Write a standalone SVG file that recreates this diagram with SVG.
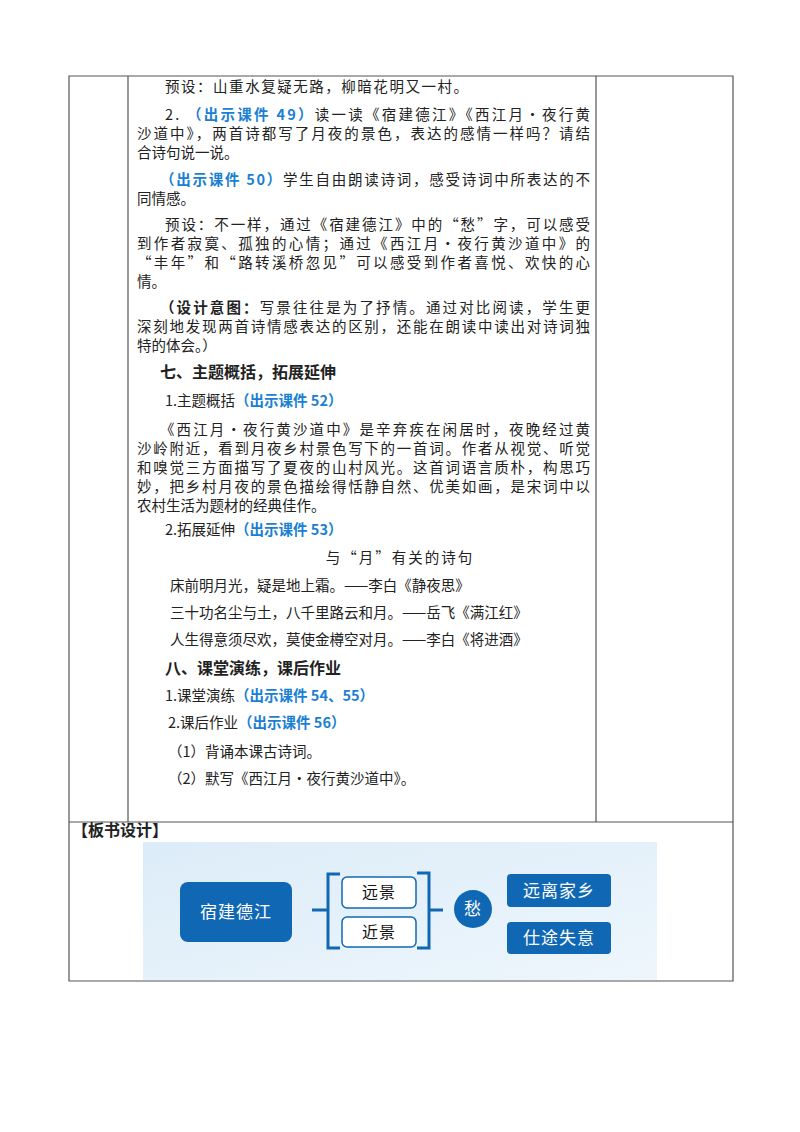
<svg xmlns="http://www.w3.org/2000/svg" width="800" height="1132" viewBox="0 0 800 1132">
<defs>
<style>
text{font-family:"Noto Sans CJK SC",sans-serif;font-size:14.5px;fill:#222}
.b{fill:#1a7fd4;font-weight:bold}
.h{font-weight:bold;font-size:16px}
.bw{fill:#fff;font-size:17px;text-anchor:middle;letter-spacing:1px}
.bk{fill:#111;font-size:16px;text-anchor:middle;letter-spacing:1px}
.ln{stroke:#555;stroke-width:1.2;fill:none}
.br{stroke:#1068b4;stroke-width:3;fill:none}
</style>
<linearGradient id="bg" x1="0" y1="0" x2="1" y2="1">
<stop offset="0" stop-color="#dcecf8"/><stop offset="1" stop-color="#eef6fc"/>
</linearGradient>
</defs>
<rect width="800" height="1132" fill="#fff"/>
<g id="table">
<path class="ln" d="M69 76H733V981H69Z M128 76V822 M596 76V822 M69 822H733"/>
</g>
<g id="body">
<text x="165" y="92" textLength="303">预设：山重水复疑无路，柳暗花明又一村。</text>
<text x="165" y="120" textLength="425">2. <tspan class="b">（出示课件 49）</tspan>读一读《宿建德江》《西江月・夜行黄</text>
<text x="137" y="139" textLength="453">沙道中》，两首诗都写了月夜的景色，表达的感情一样吗？请结</text>
<text x="137" y="158">合诗句说一说。</text>
<text x="160" y="185" textLength="430"><tspan class="b">（出示课件 50）</tspan>学生自由朗读诗词，感受诗词中所表达的不</text>
<text x="137" y="204">同情感。</text>
<text x="165" y="230" textLength="425">预设：不一样，通过《宿建德江》中的“愁”字，可以感受</text>
<text x="137" y="249" textLength="453">到作者寂寞、孤独的心情；通过《西江月・夜行黄沙道中》的</text>
<text x="137" y="268" textLength="453">“丰年”和“路转溪桥忽见”可以感受到作者喜悦、欢快的心</text>
<text x="137" y="287">情。</text>
<text x="160" y="313" textLength="430"><tspan font-weight="bold">（设计意图：</tspan>写景往往是为了抒情。通过对比阅读，学生更</text>
<text x="137" y="332" textLength="453">深刻地发现两首诗情感表达的区别，还能在朗读中读出对诗词独</text>
<text x="137" y="351">特的体会。）</text>
<text class="h" x="160" y="378">七、主题概括，拓展延伸</text>
<text x="165" y="406">1.主题概括<tspan class="b">（出示课件 52）</tspan></text>
<text x="160" y="435" textLength="430">《西江月・夜行黄沙道中》是辛弃疾在闲居时，夜晚经过黄</text>
<text x="137" y="454" textLength="453">沙岭附近，看到月夜乡村景色写下的一首词。作者从视觉、听觉</text>
<text x="137" y="473" textLength="453">和嗅觉三方面描写了夏夜的山村风光。这首词语言质朴，构思巧</text>
<text x="137" y="492" textLength="453">妙，把乡村月夜的景色描绘得恬静自然、优美如画，是宋词中以</text>
<text x="137" y="511">农村生活为题材的经典佳作。</text>
<text x="165" y="535">2.拓展延伸<tspan class="b">（出示课件 53）</tspan></text>
<text x="400" y="563" text-anchor="middle" letter-spacing="2">与“月”有关的诗句</text>
<text x="170" y="591">床前明月光，疑是地上霜。——李白《静夜思》</text>
<text x="170" y="618">三十功名尘与土，八千里路云和月。——岳飞《满江红》</text>
<text x="170" y="645">人生得意须尽欢，莫使金樽空对月。——李白《将进酒》</text>
<text class="h" x="165" y="674">八、课堂演练，课后作业</text>
<text x="165" y="701">1.课堂演练<tspan class="b">（出示课件 54、55）</tspan></text>
<text x="168" y="728">2.课后作业<tspan class="b">（出示课件 56）</tspan></text>
<text x="168" y="757">（1）背诵本课古诗词。</text>
<text x="168" y="784">（2）默写《西江月・夜行黄沙道中》。</text>
<text class="h" x="72" y="836">【板书设计】</text>
</g>
<rect x="143" y="842" width="514" height="138" fill="url(#bg)"/>
<g id="connectors">
<path class="br" d="M312 910H328M340 874H328V948H340"/>
<path class="br" d="M417 873H429V948H417M429 910H443"/>
</g>
<g id="n1"><rect x="180" y="882" width="112" height="60" rx="8" fill="#1068b4"/><text class="bw" x="236" y="918">宿建德江</text></g>
<g id="n2"><rect x="342" y="877" width="74" height="31" rx="5" fill="#fff" stroke="#1068b4" stroke-width="1.5"/><text class="bk" x="379" y="898">远景</text></g>
<g id="n3"><rect x="342" y="917" width="74" height="30" rx="5" fill="#fff" stroke="#1068b4" stroke-width="1.5"/><text class="bk" x="379" y="938">近景</text></g>
<g id="n4"><circle cx="473" cy="909" r="19" fill="#1068b4"/><text class="bw" x="473" y="915">愁</text></g>
<g id="n5"><rect x="507" y="874" width="104" height="33" rx="4" fill="#1068b4"/><text class="bw" x="559" y="897">远离家乡</text></g>
<g id="n6"><rect x="507" y="922" width="104" height="32" rx="4" fill="#1068b4"/><text class="bw" x="559" y="944">仕途失意</text></g>
</svg>
